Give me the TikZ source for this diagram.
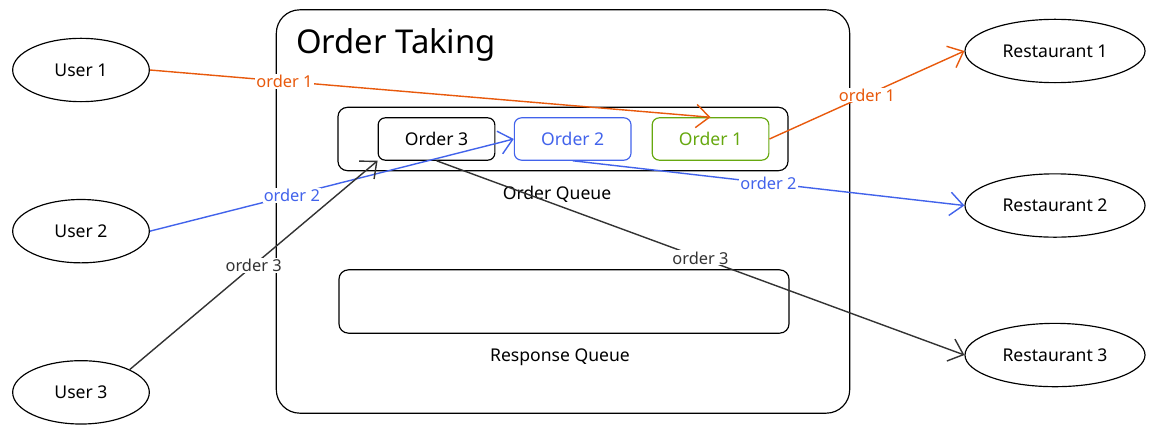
\documentclass[tikz,border=0pt]{standalone}
\usepackage{fontspec}
\setmainfont{Noto Sans}
\usetikzlibrary{positioning,arrows.meta,shapes.geometric}
\definecolor{orderorange}{HTML}{E8590C}
\definecolor{orderblue}{HTML}{4263EB}
\definecolor{ordergreen}{HTML}{66A80F}

\begin{document}
\begin{tikzpicture}[x=0.03cm,y=-0.03cm,node distance=2.9cm and 2cm]
    \tikzstyle{user}=[ellipse,draw,line width=1pt,minimum width=4.1cm,minimum height=1.9cm,font=\fontsize{15}{17}\selectfont]
    \tikzstyle{restaurant}=[ellipse,draw,line width=1pt,minimum width=5.4cm,minimum height=1.9cm,font=\fontsize{15}{17}\selectfont]
    \tikzstyle{queue}=[draw,line width=1pt,rounded corners=8pt,minimum width=13.5cm,minimum height=1.9cm]
    \tikzstyle{order}=[draw,line width=1pt,rounded corners=6pt,minimum width=3.5cm,minimum height=1.27cm,font=\fontsize{15}{17}\selectfont]
    \tikzstyle{caption}=[font=\fontsize{15}{17}\selectfont]
    \tikzstyle{edge}=[line width=1.2pt,-{Straight Barb[length=4mm,width=7mm]}]
    \tikzstyle{tag}=[fill=white,inner sep=1pt,font=\fontsize{14}{16}\selectfont]

    \useasboundingbox (0,0) rectangle (1159,432);

    \node[draw,line width=1pt,rounded corners=20pt,minimum width=17.2cm,minimum height=12.1cm] (ot) at (563,211.5) {};
    \node[anchor=west,font=\fontsize{28}{32}\selectfont] (title) at (292,45) {Order Taking};

    \node[queue] (oq) at (563,139) {};
    \node[caption] (oqlabel) at (557,194) {Order Queue};
    \node[queue] (rq) at (564,301.5) {};
    \node[caption] (rqlabel) at (560,357) {Response Queue};

    \node[order] (o3) at (436.5,139) {Order 3};
    \node[order,orderblue] (o2) [right=0.55cm of o3] {Order 2};
    \node[order,ordergreen] (o1) [right=0.6cm of o2] {Order 1};

    \node[user] (u1) at (81,70) {User 1};
    \node[user] (u2) [below=of u1] {User 2};
    \node[user] (u3) [below=of u2] {User 3};

    \node[restaurant] (r1) at (1055,51) {Restaurant 1};
    \node[restaurant] (r2) [below=2.7cm of r1] {Restaurant 2};
    \node[restaurant] (r3) [below=2.55cm of r2] {Restaurant 3};

    \draw[edge,orderorange] (u1.east) to node[tag,pos=0.24] {order 1} (o1.north);
    \draw[edge,orderorange] (o1.east) to node[tag] {order 1} (r1.west);
    \draw[edge,orderblue] (u2.east) to node[tag,pos=0.39] {order 2} (o2.west);
    \draw[edge,orderblue] (o2.south) to node[tag] {order 2} (r2.west);
    \draw[edge,black!80] (u3.north east) to node[tag] {order 3} (o3.south west);
    \draw[edge,black!80] (o3.south) to node[tag] {order 3} (r3.west);
\end{tikzpicture}
\end{document}
